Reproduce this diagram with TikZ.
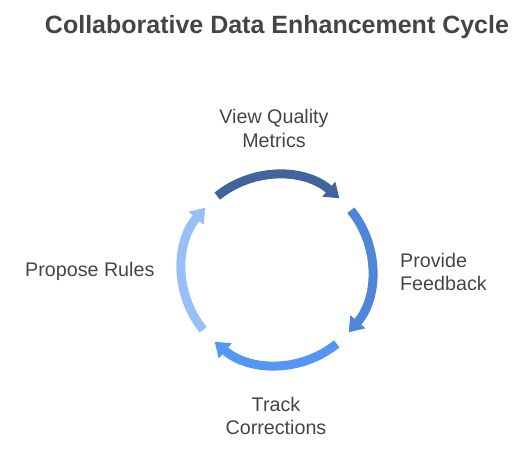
\documentclass[tikz,border=0pt]{standalone}
\usepackage{fontspec}
\setmainfont{Liberation Sans}
\usepackage{xcolor}
\usetikzlibrary{arrows.meta}
\definecolor{txtgray}{HTML}{454545}
\definecolor{stepone}{HTML}{41649D}
\definecolor{steptwo}{HTML}{4F86D8}
\definecolor{stepthree}{HTML}{5595F5}
\definecolor{stepfour}{HTML}{98BFF8}

\begin{document}
\begin{tikzpicture}[x=1pt,y=1pt,
  steplabel/.style={text=txtgray,font=\fontsize{19.7}{23.5}\selectfont,inner sep=0pt},
  cyclearc/.style={line width=9pt,-{Triangle[width=19pt,length=14pt]}}]
\useasboundingbox (0,0) rectangle (532,464);
\coordinate (hub) at (277,194);
% title
\node[text=txtgray,font=\fontsize{25}{30}\selectfont\bfseries] (title) at (277,437) {Collaborative Data Enhancement Cycle};
% the four arcs of the cycle
\draw[cyclearc,stepone] ([shift={(129:95)}]hub) arc[start angle=129,end angle=49,radius=95];
\draw[cyclearc,steptwo] ([shift={(39:95)}]hub) arc[start angle=39,end angle=-41,radius=95];
\draw[cyclearc,stepthree] ([shift={(-51:95)}]hub) arc[start angle=-51,end angle=-131,radius=95];
\draw[cyclearc,stepfour] ([shift={(-141:95)}]hub) arc[start angle=-141,end angle=-221,radius=95];
% labels
\node[steplabel,align=center] (view) at (274,335.5) {View Quality\\Metrics};
\node[steplabel,align=left,right] (feedback) at (400,192) {Provide\\Feedback};
\node[steplabel,align=center] (track) at (276,48) {Track\\Corrections};
\node[steplabel,right] (rules) at (25,193) {Propose Rules};
\end{tikzpicture}
\end{document}
